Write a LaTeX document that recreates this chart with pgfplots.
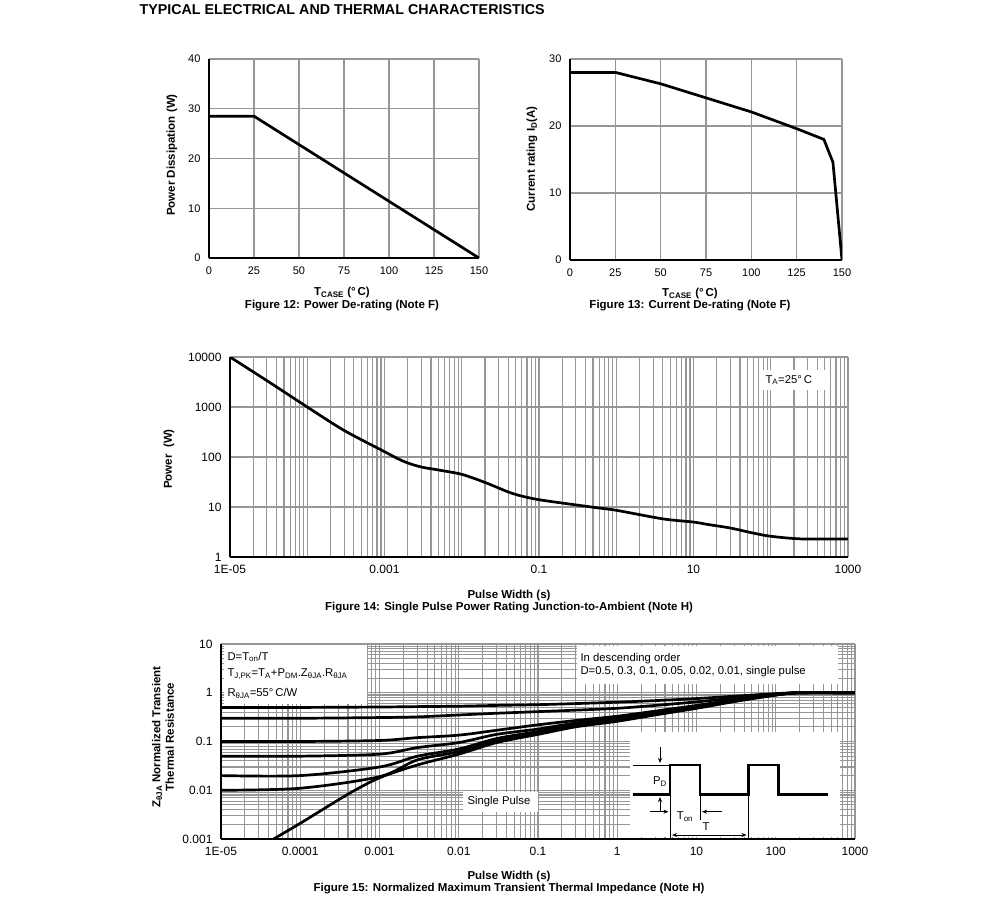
\documentclass[border=0pt]{standalone}
\usepackage{fontspec}
\setmainfont{Liberation Sans}
\usepackage{pgfplots}
\pgfplotsset{compat=1.18}
\usetikzlibrary{arrows.meta}

\definecolor{gridgray}{RGB}{150,150,150}

\newcommand\lab{\bfseries\fontsize{11.5}{13.5}\selectfont}
\newcommand\txt{\fontsize{11.3}{13}\selectfont}

\pgfplotsset{
  ds/.style={
    scale only axis,
    anchor=north west,
    axis x line=bottom, axis y line=left,
    axis line style={-, black, line width=2.4pt},
    grid style={gridgray, line width=1.1pt},
    major tick length=0pt, minor tick length=0pt,
    tick label style={font=\fontsize{11}{12}\selectfont},
    xticklabel style={yshift=-5pt},
    yticklabel style={xshift=-5pt},
    /pgf/number format/assume math mode=true,
  },
  curve/.style={black, line width=2.7pt, no markers},
  decx/.style={
    xtick={1e-5,1e-4,1e-3,1e-2,1e-1,1,10,100,1000},
    minor xtick={2e-5,3e-5,4e-5,5e-5,6e-5,7e-5,8e-5,9e-5,
      2e-4,3e-4,4e-4,5e-4,6e-4,7e-4,8e-4,9e-4,
      2e-3,3e-3,4e-3,5e-3,6e-3,7e-3,8e-3,9e-3,
      2e-2,3e-2,4e-2,5e-2,6e-2,7e-2,8e-2,9e-2,
      0.2,0.3,0.4,0.5,0.6,0.7,0.8,0.9,
      2,3,4,5,6,7,8,9,
      20,30,40,50,60,70,80,90,
      200,300,400,500,600,700,800,900},
    tick label style={font=\fontsize{12}{13}\selectfont},
  },
}

\begin{document}
\begin{tikzpicture}
\path[use as bounding box] (0,0) rectangle (991pt,-921pt);

% Figure 12
\begin{axis}[ds, at={(209pt,-59pt)}, width=270pt, height=199pt,
  xmin=0, xmax=150, ymin=0, ymax=40,
  xtick={0,25,50,75,100,125,150}, ytick={0,10,20,30,40},
  grid=major]
\addplot[curve] coordinates {(0,28.5) (25,28.5) (150,0)};
\end{axis}

% Figure 13
\begin{axis}[ds, at={(570pt,-59pt)}, width=272pt, height=201pt,
  xmin=0, xmax=150, ymin=0, ymax=30,
  xtick={0,25,50,75,100,125,150}, ytick={0,10,20,30},
  grid=major]
\addplot[curve] coordinates {(0,28) (25,28) (50,26.3) (75,24.2) (100,22.1)
  (125,19.6) (140,18) (145,14.6) (150,0)};
\end{axis}

% Figure 14
\begin{axis}[ds, decx, at={(230pt,-357pt)}, width=618pt, height=200pt,
  xmode=log, ymode=log,
  xmin=1e-5, xmax=1000, ymin=1, ymax=10000,
  xticklabels={1E-05,,0.001,,0.1,,10,,1000},
  ytick={1,10,100,1000,10000}, yticklabels={1,10,100,1000,10000},
  minor ytick={},
  xmajorgrids, ymajorgrids, xminorgrids]
\fill[white] (rel axis cs:0.858,0.835) rectangle (rel axis cs:0.963,0.935);
\addplot[curve, smooth] coordinates {
  (1e-5,10000) (3.16e-5,3200) (1e-4,1000) (3e-4,340) (1e-3,128) (1.5e-3,92)
  (2e-3,76) (3e-3,63) (5e-3,55) (1e-2,45) (2e-2,31) (4e-2,20) (6e-2,16.5)
  (0.1,14) (0.2,12) (0.55,9.7) (1,8.6) (4,5.8) (10,5.0) (15,4.5) (30,3.8)
  (60,3.0) (100,2.6) (250,2.3) (1000,2.3)};
\end{axis}

% Figure 15
\begin{axis}[ds, decx, at={(221pt,-644pt)}, width=634pt, height=195pt,
  xmode=log, ymode=log,
  xmin=1e-5, xmax=1000, ymin=0.001, ymax=10,
  xticklabels={1E-05,0.0001,0.001,0.01,0.1,1,10,100,1000},
  ytick={0.001,0.01,0.1,1,10}, yticklabels={0.001,0.01,0.1,1,10},
  minor ytick={2e-3,3e-3,4e-3,5e-3,6e-3,7e-3,8e-3,9e-3,
    2e-2,3e-2,4e-2,5e-2,6e-2,7e-2,8e-2,9e-2,
    0.2,0.3,0.4,0.5,0.6,0.7,0.8,0.9,2,3,4,5,6,7,8,9},
  grid=both]
\fill[white] (rel axis cs:0.004,0.692) rectangle (rel axis cs:0.2303,0.993);
\fill[white] (rel axis cs:0.5615,0.795) rectangle (rel axis cs:0.973,0.990);
\fill[white] (rel axis cs:0.645,0.008) rectangle (rel axis cs:0.976,0.549);
\fill[white] (rel axis cs:0.3817,0.138) rectangle (rel axis cs:0.5,0.241);
% D=0.5
\addplot[curve, smooth] coordinates {(1e-5,0.5) (1e-4,0.5) (1e-3,0.51) (3e-3,0.52)
  (1e-2,0.53) (3e-2,0.55) (0.1,0.57) (0.3,0.60) (1,0.64) (3,0.69) (10,0.76)
  (30,0.85) (100,0.96) (200,1.0) (1000,1.0)};
% D=0.3
\addplot[curve, smooth] coordinates {(1e-5,0.3) (1e-4,0.3) (1e-3,0.31) (3e-3,0.32)
  (1e-2,0.35) (3e-2,0.38) (0.1,0.41) (0.3,0.44) (1,0.48) (3,0.55) (10,0.65)
  (30,0.78) (100,0.94) (200,1.0) (1000,1.0)};
% D=0.1
\addplot[curve, smooth] coordinates {(1e-5,0.1) (1e-4,0.1) (1e-3,0.105) (3e-3,0.12)
  (1e-2,0.135) (3e-2,0.17) (0.1,0.22) (0.3,0.27) (1,0.33) (3,0.42) (10,0.55)
  (30,0.72) (100,0.92) (200,1.0) (1000,1.0)};
% D=0.05
\addplot[curve, smooth] coordinates {(1e-5,0.05) (1e-4,0.05) (1e-3,0.055) (3e-3,0.075)
  (1e-2,0.095) (3e-2,0.14) (0.1,0.18) (0.3,0.24) (1,0.30) (3,0.39) (10,0.52)
  (30,0.70) (100,0.91) (200,1.0) (1000,1.0)};
% D=0.02
\addplot[curve, smooth] coordinates {(1e-5,0.02) (1e-4,0.02) (1e-3,0.03) (3e-3,0.05)
  (1e-2,0.07) (3e-2,0.115) (0.1,0.16) (0.3,0.22) (1,0.28) (3,0.37) (10,0.50)
  (30,0.68) (100,0.90) (200,1.0) (1000,1.0)};
% D=0.01
\addplot[curve, smooth] coordinates {(1e-5,0.01) (1e-4,0.011) (1e-3,0.019) (3e-3,0.042)
  (1e-2,0.062) (3e-2,0.105) (0.1,0.15) (0.3,0.21) (1,0.27) (3,0.36) (10,0.49)
  (30,0.67) (100,0.90) (200,1.0) (1000,1.0)};
% single pulse
\addplot[curve, smooth] coordinates {(4.6e-5,0.001) (1e-4,0.0021) (4e-4,0.0083)
  (1e-3,0.018) (3e-3,0.033) (1e-2,0.055) (3e-2,0.095) (0.1,0.14) (0.3,0.2)
  (1,0.26) (3,0.35) (10,0.48) (30,0.66) (100,0.9) (200,1.0) (1000,1.0)};
\end{axis}

\begin{scope}[x=1pt, y=-1pt]
\node[anchor=west, font=\bfseries\fontsize{14.3}{16}\selectfont] at (136,10)
  {TYPICAL ELECTRICAL AND THERMAL CHARACTERISTICS};

% Figure 12 texts
\node[rotate=90, font=\lab] at (172,155) {Power Dissipation (W)};
\node[font=\lab] at (342,293) {T\textsubscript{CASE} (°\,C)};
\node[font=\lab] at (342,306) {Figure 12: Power De-rating (Note F)};

% Figure 13 texts
\node[rotate=90, font=\lab] at (532,159) {Current rating I\textsubscript{D}(A)};
\node[font=\lab] at (690,294) {T\textsubscript{CASE} (°\,C)};
\node[font=\lab] at (690,306) {Figure 13: Current De-rating (Note F)};

% Figure 14 texts
\node[rotate=90, font=\lab] at (169,459) {Power\ \ (W)};
\node[font=\lab] at (509,596) {Pulse Width (s)};
\node[font=\lab] at (509,608) {Figure 14: Single Pulse Power Rating Junction-to-Ambient (Note H)};
\node[anchor=west, font=\txt] at (762,380) {T\textsubscript{A}=25°\,C};

% Figure 15 texts
\node[rotate=90, font=\lab, align=center] at (163,737)
  {Z\textsubscript{θJA} Normalized Transient\\Thermal Resistance};
\node[font=\lab] at (509,877) {Pulse Width (s)};
\node[font=\lab] at (509,889) {Figure 15: Normalized Maximum Transient Thermal Impedance (Note H)};
\node[anchor=west, font=\txt] at (224,657) {D=T\textsubscript{on}/T};
\node[anchor=west, font=\txt] at (224,674)
  {T\textsubscript{J,PK}=T\textsubscript{A}+P\textsubscript{DM}.Z\textsubscript{θJA}.R\textsubscript{θJA}};
\node[anchor=west, font=\txt] at (224,693) {R\textsubscript{θJA}=55°\,C/W};
\node[anchor=west, font=\txt] at (577,659) {In descending order};
\node[anchor=west, font=\txt] at (577,672) {D=0.5, 0.3, 0.1, 0.05, 0.02, 0.01, single pulse};
\node[font=\txt] at (499,802) {Single Pulse};

% pulse sketch
\draw[line width=2.5pt] (633,794.3) -- (670,794.3) -- (670,765) -- (700,765)
  -- (700,794.3) -- (748.3,794.3) -- (748.3,765) -- (778.3,765) -- (778.3,794.3)
  -- (828.3,794.3);
\draw[line width=0.8pt] (633,765) -- (670,765);
\draw[line width=0.8pt] (670,794) -- (670,839);
\draw[line width=0.8pt] (700,794) -- (700,820);
\draw[line width=0.8pt] (748.3,794) -- (748.3,839);
\draw[line width=0.8pt, -{Stealth[length=5pt,width=4pt]}] (660,747) -- (660,763);
\draw[line width=0.8pt, -{Stealth[length=5pt,width=4pt]}] (660,811) -- (660,797);
\draw[line width=0.8pt, -{Stealth[length=5pt,width=4pt]}] (650,811.7) -- (668.5,811.7);
\draw[line width=0.8pt, -{Stealth[length=5pt,width=4pt]}] (721.7,811.7) -- (702,811.7);
\draw[line width=0.8pt, {Stealth[length=5pt,width=4pt]}-{Stealth[length=5pt,width=4pt]}]
  (672,835) -- (746.5,835);
\node[font=\txt] at (660,781.7) {P\textsubscript{D}};
\node[font=\txt] at (685,816.7) {T\textsubscript{on}};
\node[font=\txt] at (706,826.7) {T};
\end{scope}
\end{tikzpicture}
\end{document}
